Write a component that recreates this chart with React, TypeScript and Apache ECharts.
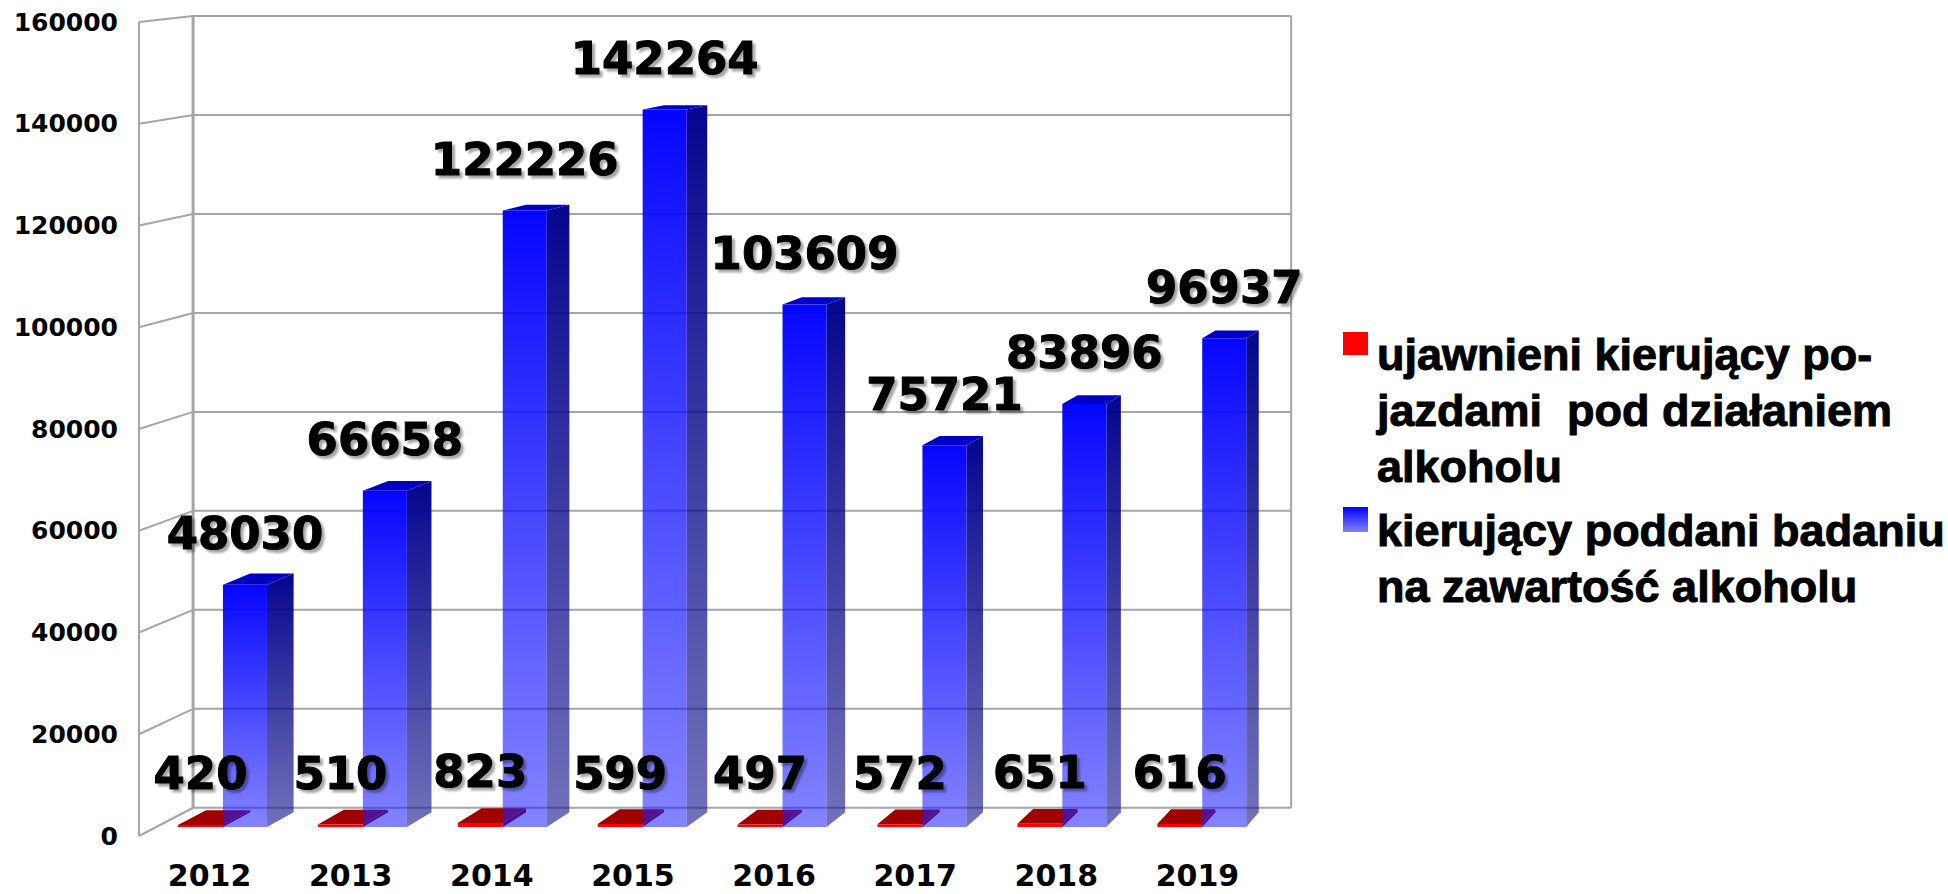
import React, { useEffect, useRef } from "react";
import * as echarts from "echarts";

const years = ["2012", "2013", "2014", "2015", "2016", "2017", "2018", "2019"];
const drunkDrivers = [420, 510, 823, 599, 497, 572, 651, 616];
const testedDrivers = [48030, 66658, 122226, 142264, 103609, 75721, 83896, 96937];
const yTicks = [0, 20000, 40000, 60000, 80000, 100000, 120000, 140000, 160000];
const seriesNames = [
  "ujawnieni kierujący pojazdami pod działaniem alkoholu",
  "kierujący poddani badaniu na zawartość alkoholu",
];
const legendLines = [
  ["ujawnieni kierujący po-", "jazdami  pod działaniem", "alkoholu"],
  ["kierujący poddani badaniu", "na zawartość alkoholu"],
];

const FONT = '"DejaVu Sans", sans-serif';
const LEGEND_FONT = '"Liberation Sans", Arial, sans-serif';
const VP = [2113, -195];
const T_FRONT = 0.0087;
const T_BACK = 0.023;
const T_WALL = 0.0274;
const RED_OFF = [-0.344, -0.0227];
const BLUE_OFF = [-0.0227, 0.292];

function proj(p: number[], t: number) {
  return [p[0] + t * (VP[0] - p[0]), p[1] + t * (VP[1] - p[1])];
}

function geom(api: any, off: number[]) {
  const i = api.value(0);
  const v = api.value(1);
  const base = api.coord([i, 0]);
  const top = api.coord([i, v]);
  const bw = api.size([1, 0])[0];
  const c = base[0];
  const x0 = c + off[0] * bw;
  const x1 = c + off[1] * bw;
  const yb = base[1];
  const yt = top[1];
  return {
    A: proj([x0, yb], T_FRONT),
    B: proj([x1, yb], T_FRONT),
    C: proj([x1, yt], T_FRONT),
    D: proj([x0, yt], T_FRONT),
    B2: proj([x1, yb], T_BACK),
    C2: proj([x1, yt], T_BACK),
    D2: proj([x0, yt], T_BACK),
    v,
  };
}

function makeBar(off: number[], kind: "red" | "blue") {
  return (params: any, api: any) => {
    const g = geom(api, off);
    const front =
      kind === "blue"
        ? new echarts.graphic.LinearGradient(0, 0, 0, 1, [
            { offset: 0, color: "rgba(0,0,255,0.98)" },
            { offset: 1, color: "rgba(30,30,255,0.55)" },
          ])
        : "#ff0000";
    const side =
      kind === "blue"
        ? new echarts.graphic.LinearGradient(0, 0, 0, 1, [
            { offset: 0, color: "rgba(0,0,140,0.98)" },
            { offset: 1, color: "rgba(20,20,140,0.6)" },
          ])
        : "#700000";
    const topC = kind === "blue" ? "#0000c4" : "#a00000";
    return {
      type: "group",
      children: [
        { type: "polygon", shape: { points: [g.B, g.B2, g.C2, g.C] }, style: { fill: side } },
        { type: "polygon", shape: { points: [g.D, g.C, g.C2, g.D2] }, style: { fill: topC } },
        { type: "polygon", shape: { points: [g.A, g.B, g.C, g.D] }, style: { fill: front } },
      ],
    };
  };
}

function makeLabel(off: number[]) {
  return (params: any, api: any) => {
    const g = geom(api, off);
    return {
      type: "text",
      x: (g.A[0] + g.B[0]) / 2,
      y: g.D[1] - 51,
      style: {
        text: String(g.v),
        fontSize: 45,
        fontWeight: "bold",
        fontFamily: FONT,
        fill: "#000",
        stroke: "#000",
        lineWidth: 1,
        align: "center",
        verticalAlign: "middle",
        textAlign: "center",
        textVerticalAlign: "middle",
        textShadowColor: "rgba(0,0,0,0.35)",
        textShadowOffsetX: 3,
        textShadowOffsetY: 3,
        textShadowBlur: 2,
      },
    };
  };
}

function renderWall(params: any, api: any) {
  const v = api.value(1);
  const p = api.coord([0, v]);
  const bw = api.size([1, 0])[0];
  const xl = p[0] - bw / 2;
  const xr = xl + bw * years.length;
  const f = [xl, p[1]];
  const bl = proj(f, T_WALL);
  const br = proj([xr, p[1]], T_WALL);
  const ls = { stroke: "#a6a6a6", lineWidth: 2 };
  const children: any[] = [
    { type: "line", shape: { x1: f[0], y1: f[1], x2: bl[0], y2: bl[1] }, style: ls },
    { type: "line", shape: { x1: bl[0], y1: bl[1], x2: br[0], y2: br[1] }, style: ls },
  ];
  if (params.dataIndex === 0) {
    const top = api.coord([0, yTicks[yTicks.length - 1]]);
    const ft = [xl, top[1]];
    const btl = proj(ft, T_WALL);
    const btr = proj([xr, top[1]], T_WALL);
    children.push(
      { type: "line", shape: { x1: xl, y1: ft[1], x2: xl, y2: f[1] }, style: ls },
      { type: "line", shape: { x1: btl[0], y1: btl[1], x2: bl[0], y2: bl[1] }, style: { stroke: "#a6a6a6", lineWidth: 3 } },
      { type: "line", shape: { x1: btr[0], y1: btr[1], x2: br[0], y2: br[1] }, style: ls }
    );
  }
  return { type: "group", children };
}

const legendTextStyle = {
  fontSize: 45,
  fontWeight: "bold",
  fontFamily: LEGEND_FONT,
  lineHeight: 56,
  fill: "#000",
  stroke: "#000",
  lineWidth: 1,
  verticalAlign: "top",
};

export default function App() {
  const ref = useRef<HTMLDivElement>(null);
  useEffect(() => {
    document.body.style.margin = "0";
    const chart = echarts.init(ref.current!, null, { renderer: "svg" });
    chart.setOption({
      animation: false,
      backgroundColor: "#ffffff",
      grid: { left: 139, top: 22, width: 1129, height: 814, containLabel: false },
      xAxis: {
        type: "category",
        data: years,
        axisLine: { show: false },
        axisTick: { show: false },
        axisLabel: {
          fontSize: 30,
          fontWeight: "bold",
          fontFamily: FONT,
          color: "#000",
          margin: 24,
          lineHeight: 30,
        },
      },
      yAxis: {
        type: "value",
        min: 0,
        max: 160000,
        interval: 20000,
        axisLine: { show: false },
        axisTick: { show: false },
        splitLine: { show: false },
        axisLabel: {
          fontSize: 25,
          fontWeight: "bold",
          fontFamily: FONT,
          color: "#000",
          margin: 21,
          formatter: (v: number) => String(v),
        },
      },
      series: [
        {
          type: "custom",
          name: "walls",
          z: 1,
          silent: true,
          clip: false,
          data: yTicks.map((v) => [0, v]),
          encode: { x: 0, y: 1 },
          renderItem: renderWall,
        },
        {
          type: "custom",
          name: seriesNames[0],
          z: 3,
          clip: false,
          data: drunkDrivers.map((v, i) => [i, v]),
          encode: { x: 0, y: 1 },
          renderItem: makeBar(RED_OFF, "red"),
        },
        {
          type: "custom",
          name: seriesNames[1],
          z: 4,
          clip: false,
          data: testedDrivers.map((v, i) => [i, v]),
          encode: { x: 0, y: 1 },
          renderItem: makeBar(BLUE_OFF, "blue"),
        },
        {
          type: "custom",
          name: "labels-red",
          z: 10,
          silent: true,
          clip: false,
          data: drunkDrivers.map((v, i) => [i, v]),
          encode: { x: 0, y: 1 },
          renderItem: makeLabel(RED_OFF),
        },
        {
          type: "custom",
          name: "labels-blue",
          z: 10,
          silent: true,
          clip: false,
          data: testedDrivers.map((v, i) => [i, v]),
          encode: { x: 0, y: 1 },
          renderItem: makeLabel(BLUE_OFF),
        },
      ],
      graphic: [
        { type: "rect", shape: { x: 1343, y: 332, width: 25, height: 23 }, style: { fill: "#ff0000" } },
        {
          type: "text",
          x: 1377,
          y: 326,
          style: { ...legendTextStyle, text: legendLines[0].join("\n") },
        },
        {
          type: "rect",
          shape: { x: 1343, y: 507, width: 25, height: 25 },
          style: {
            fill: new echarts.graphic.LinearGradient(0, 0, 0, 1, [
              { offset: 0, color: "#0000ff" },
              { offset: 1, color: "#8080ff" },
            ]),
          },
        },
        {
          type: "text",
          x: 1377,
          y: 502,
          style: { ...legendTextStyle, text: legendLines[1].join("\n") },
        },
      ],
    });
    return () => chart.dispose();
  }, []);
  return <div ref={ref} style={{ width: 1948, height: 894 }} />;
}
